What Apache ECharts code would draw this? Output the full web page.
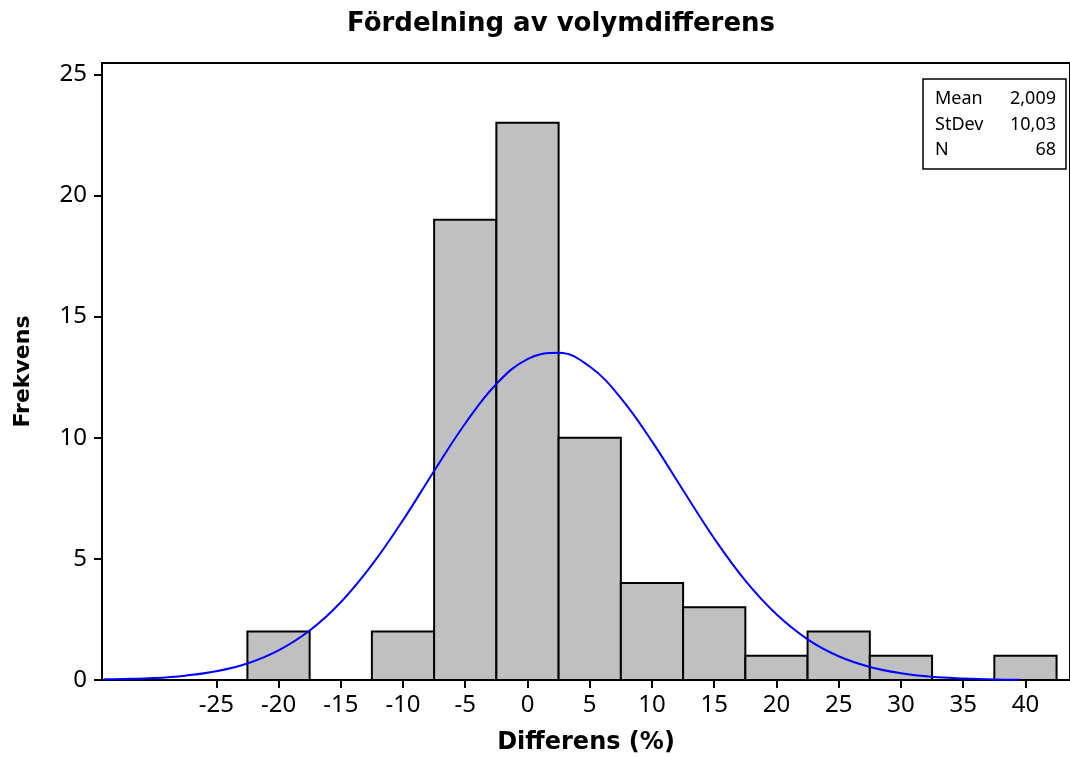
<!DOCTYPE html>
<html>
<head>
<meta charset="utf-8">
<title>Fördelning av volymdifferens</title>
<script src="https://cdn.jsdelivr.net/npm/echarts@6/dist/echarts.min.js"></script>
<style>
  html, body { margin: 0; padding: 0; background: #fff; }
  #chart { width: 1070px; height: 760px; }
</style>
</head>
<body>
<div id="chart"></div>
<script>
// histogram bins (centre of each 5-wide bin) and counts
const binCenters = [-20, -15, -10, -5, 0, 5, 10, 15, 20, 25, 30, 35, 40]
const binCounts = [2, 0, 2, 19, 23, 10, 4, 3, 1, 2, 1, 0, 1]
const binWidth = 5

// fitted normal curve
const curveX = [-34, -32.5, -30, -27.5, -25, -22.5, -20, -17.5, -15, -12.5, -10, -7.5, -5, -2.5, 0, 2.5, 5, 7.5, 10, 12.5, 15, 17.5, 20, 22.5, 25, 27.5, 30, 32.5, 35, 37.5, 39.5]
const curveY = [0.03, 0.04, 0.08, 0.18, 0.36, 0.68, 1.22, 2.04, 3.21, 4.75, 6.6, 8.63, 10.59, 12.22, 13.25, 13.51, 12.94, 11.64, 9.85, 7.83, 5.84, 4.1, 2.71, 1.68, 0.98, 0.54, 0.28, 0.13, 0.06, 0.02, 0.01]

const xTicks = [-25, -20, -15, -10, -5, 0, 5, 10, 15, 20, 25, 30, 35, 40]
const yTicks = [0, 5, 10, 15, 20, 25]

const statLabels = ['Mean', 'StDev', 'N']
const statValues = ['2,009', '10,03', '68']

const chart = echarts.init(document.getElementById('chart'))

const font = 'DejaVu Sans'
const tickFont = 'Noto Sans'
const statTexts = []
statLabels.forEach((label, i) => {
  statTexts.push({
    type: 'text', x: 12, y: 20 + i * 25.5,
    style: { text: label, font: '18px "Noto Sans"', fill: '#000', verticalAlign: 'middle' }
  })
  statTexts.push({
    type: 'text', x: 133, y: 20 + i * 25.5,
    style: { text: statValues[i], font: '18px "Noto Sans"', fill: '#000', align: 'right', verticalAlign: 'middle' }
  })
})

chart.setOption({
  animation: false,
  title: {
    text: 'Fördelning av volymdifferens',
    left: 556,
    top: 6,
    textAlign: 'center',
    textStyle: { fontFamily: font, fontWeight: 'bold', fontSize: 26, color: '#000' }
  },
  grid: {
    left: 102, right: -4, top: 63, bottom: 75,
    show: true, borderColor: '#000', borderWidth: 2
  },
  xAxis: {
    type: 'value',
    min: -34.18,
    max: 43.58,
    name: 'Differens (%)',
    nameLocation: 'middle',
    nameGap: 51,
    nameTextStyle: { fontFamily: font, fontWeight: 'bold', fontSize: 24, color: '#000' },
    splitLine: { show: false },
    axisLine: { onZero: false, lineStyle: { color: '#000', width: 2 } },
    axisTick: { customValues: xTicks, length: 8, lineStyle: { color: '#000', width: 2 } },
    axisLabel: { customValues: xTicks, margin: 13, fontFamily: tickFont, fontSize: 24, color: '#000' }
  },
  yAxis: {
    type: 'value',
    min: 0,
    max: 25.47,
    name: 'Frekvens',
    nameLocation: 'middle',
    nameGap: 68,
    nameTextStyle: { fontFamily: font, fontWeight: 'bold', fontSize: 22, color: '#000' },
    splitLine: { show: false },
    axisLine: { show: true, onZero: false, lineStyle: { color: '#000', width: 2 } },
    axisTick: { show: true, customValues: yTicks, length: 8, lineStyle: { color: '#000', width: 2 } },
    axisLabel: { customValues: yTicks, margin: 15, fontFamily: tickFont, fontSize: 24, color: '#000' }
  },
  graphic: [{
    type: 'group',
    x: 923,
    y: 79,
    children: [
      { type: 'rect', shape: { x: 0, y: 0, width: 143, height: 90 }, style: { fill: '#fff', stroke: '#000', lineWidth: 1.5 } },
      ...statTexts
    ]
  }],
  series: [
    {
      type: 'custom',
      data: binCenters.map((c, i) => [c, binCounts[i]]),
      renderItem: (params, api) => {
        const x = api.value(0)
        const y = api.value(1)
        if (!y) return null
        const p0 = api.coord([x - binWidth / 2, 0])
        const p1 = api.coord([x + binWidth / 2, y])
        return {
          type: 'rect',
          shape: { x: p0[0], y: p1[1], width: p1[0] - p0[0], height: p0[1] - p1[1] },
          style: { fill: '#c0c0c0', stroke: '#000', lineWidth: 2 }
        }
      },
      z: 2
    },
    {
      type: 'line',
      data: curveX.map((x, i) => [x, curveY[i]]),
      smooth: 0.4,
      symbol: 'none',
      lineStyle: { color: '#0000ff', width: 2 },
      z: 3
    }
  ]
})

window.addEventListener('resize', () => chart.resize())
</script>
</body>
</html>
